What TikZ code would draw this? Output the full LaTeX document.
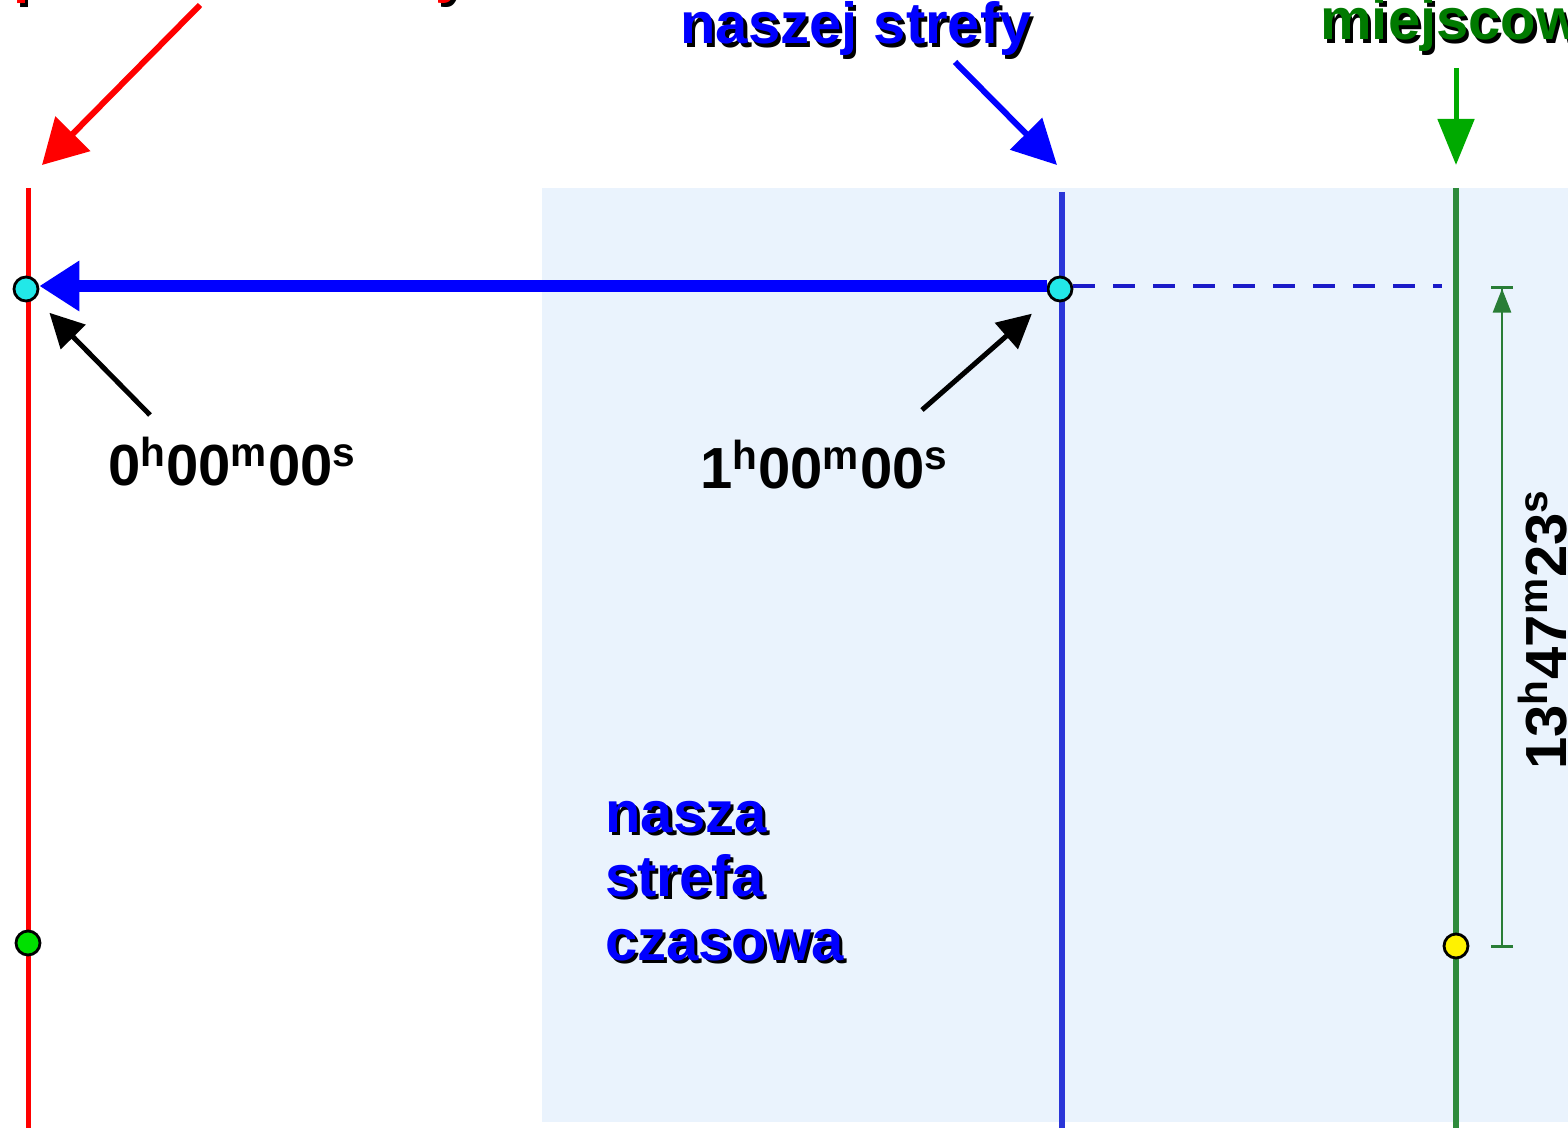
\documentclass[tikz,border=0pt]{standalone}
\usepackage{fontspec}
\setmainfont{Liberation Sans}
\usetikzlibrary{arrows.meta}

\definecolor{zonebg}{HTML}{EAF3FD}
\definecolor{zoneblue}{HTML}{2A35D8}
\definecolor{dashblue}{HTML}{1A1AC8}
\definecolor{localgreen}{HTML}{2E8B3C}
\definecolor{arrowgreen}{HTML}{00AA00}
\definecolor{textgreen}{HTML}{007A00}
\definecolor{dotcyan}{HTML}{22E8E8}
\definecolor{dotgreen}{HTML}{00E000}

% text with a black shadow
\newcommand{\shadowed}[2]{\makebox[0pt][l]{\hspace{1.6pt}\raisebox{-1.6pt}{\color{black}#2}}{\color{#1}#2}}
% time as h m s
\newcommand{\hms}[3]{#1\textsuperscript{h}#2\textsuperscript{m}#3\textsuperscript{s}}

\begin{document}
\begin{tikzpicture}[x=0.5pt,y=-0.5pt,
                    font=\fontsize{29}{33}\selectfont\bfseries]
  \tikzstyle{dot}=[circle,draw=black,line width=1.4pt,inner sep=0pt,minimum size=12pt]
  \tikzstyle{meridian}=[line width=2.5pt]
  \tikzstyle{caption}=[inner sep=0pt,anchor=base west]
  \tikzstyle{pointer}=[line width=2.5pt,-{Triangle[length=17pt,width=17pt]}]

  \useasboundingbox (0,0) rectangle (1568,1128);
  \clip (0,0) rectangle (1568,1128);

  % zone band
  \fill[zonebg] (542,188) rectangle (1568,1122);

  % meridians
  \draw[meridian,red]        (28,188)   -- (28,1128);
  \draw[meridian,zoneblue,line width=2.8pt] (1062,192) -- (1062,1128);
  \draw[meridian,localgreen,line width=3pt] (1456,188) -- (1456,1128);

  % points
  \node[dot,fill=dotcyan]  (zero)  at (26,289)   {};
  \node[dot,fill=dotcyan]  (ours)  at (1060,289) {};
  \node[dot,fill=dotgreen] (noon0) at (28,943)   {};
  \node[dot,fill=yellow]   (noonl) at (1456,946) {};

  \coordinate (dashend) at (1442,286);
  \coordinate (dimtop)  at (1502,286);
  \coordinate (dimbot)  at (1502,948);

  \draw[blue,line width=6pt,-{Triangle[length=20pt,width=24pt]}] ([yshift=1.5pt]ours.west) -- ([yshift=1.5pt]zero.east);
  \draw[dashblue,line width=1.8pt,dash pattern=on 11pt off 9pt] ([yshift=1.5pt]ours.east) -- (dashend);
  \draw[localgreen!90!black,line width=1.3pt,
        {Bar[width=11pt]}-{Triangle[length=12pt,width=9pt]Bar[width=11pt]}] (dimbot) -- (dimtop);

  % labels at the top
  \coordinate (redfrom)   at (200,5);
  \coordinate (redto)     at (42,165);
  \coordinate (bluefrom)  at (955,62);
  \coordinate (blueto)    at (1057,165);
  \coordinate (greenfrom) at (1456,68);
  \coordinate (greento)   at (1456,165);

  \node[caption] (zerolbl)  at (13,-8)    {\shadowed{red}{południk zerowy}};
  \node[caption] (zonelbl)  at (680,44)   {\shadowed{blue}{naszej strefy}};
  \node[caption] (locallbl) at (1320,40)  {\shadowed{textgreen}{miejscowy}};

  \draw[red,line width=3pt,-{Triangle[length=22pt,width=24pt]}] (redfrom) -- (redto);
  \draw[blue,line width=3pt,-{Triangle[length=22pt,width=22pt]}] (bluefrom) -- (blueto);
  \draw[arrowgreen,line width=2.5pt,-{Triangle[length=23pt,width=18pt]}] (greenfrom) -- (greento);

  % times
  \coordinate (zerotail) at (150,415);
  \coordinate (ourstail) at (922,410);
  \node[caption] (t0) at (108,485) {\hms{0}{00}{00}};
  \node[caption] (t1) at (700,488) {\hms{1}{00}{00}};
  \draw[pointer,shorten >=10pt] (zerotail) -- (zero);
  \draw[pointer,shorten >=12pt] (ourstail) -- (ours);

  \node[caption,rotate=90] (diff) at (1566,770) {\hms{13}{47}{23}};

  % zone name
  \node[caption,align=left] (zonename) at (605,960)
    {\shadowed{blue}{nasza}\\[-1pt]\shadowed{blue}{strefa}\\[-1pt]\shadowed{blue}{czasowa}};
\end{tikzpicture}
\end{document}
